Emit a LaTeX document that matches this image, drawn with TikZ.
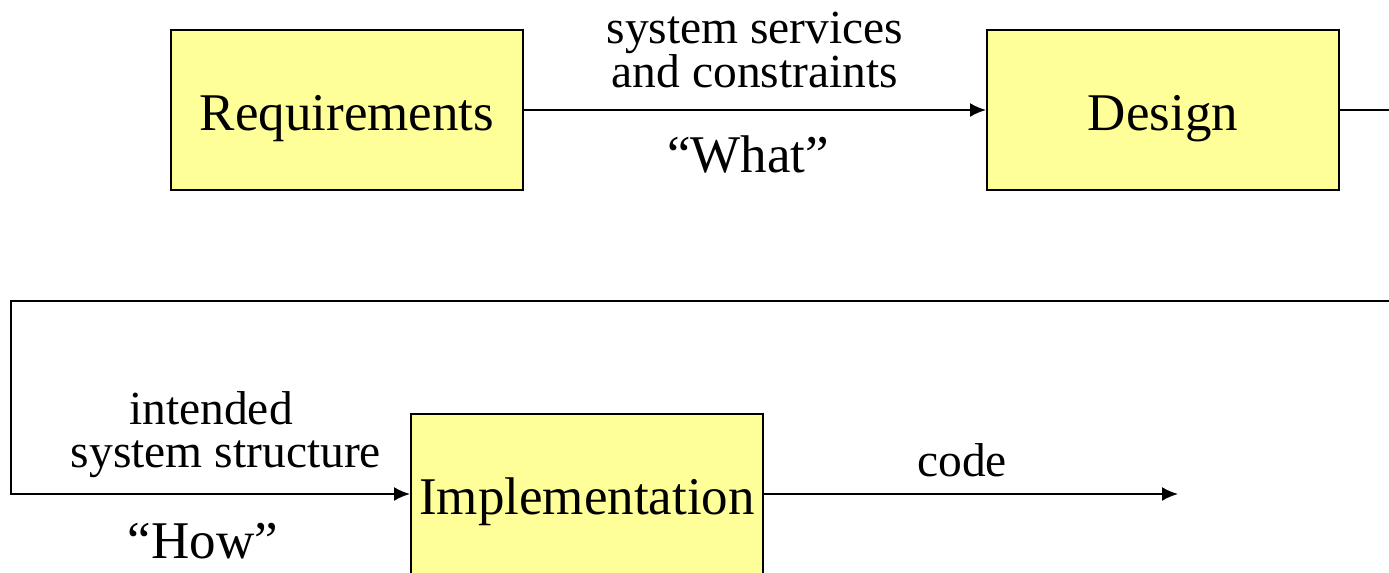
\documentclass[tikz,border=0pt]{standalone}
\usepackage{fontspec}
\setmainfont{Liberation Serif}
\usepackage{tikz}
\usetikzlibrary{arrows.meta,positioning}

\tikzset{
  phase/.style={draw, line width=1pt, fill=phasefill, minimum width=176pt,
                minimum height=80pt, inner sep=0pt, text height=24pt, text depth=4pt,
                font=\fontsize{26.5}{28}\selectfont},
  flow/.style={line width=1pt},
  lbl/.style={align=center, inner sep=0pt, font=\fontsize{23.75}{22}\selectfont},
  quote/.style={inner sep=0pt, font=\fontsize{26.5}{28}\selectfont}
}
\definecolor{phasefill}{HTML}{FFFF99}

\begin{document}
\begin{tikzpicture}[x=0.5pt, y=-0.5pt, >={Latex[length=8pt,width=7pt]}]
	\useasboundingbox (0,0) rectangle (1389,573);
	\clip (0,0) rectangle (1389,573);
	% phases
	\node[phase] (req) at (347,110) {Requirements};
	\node[phase] (des) at (1163,110) {Design};
	\node[phase] (imp) at (587,494) {Implementation};
	% corners of the return line
	\coordinate (dout) at (1420,110);
	\coordinate (rtop) at (1420,301);
	\coordinate (ltop) at (11,301);
	\coordinate (lbot) at (11,494);
	\coordinate (cend) at (1178,494);
	% labels
	\node[lbl] (svc) at (755,50) {system services\\and constraints};
	\node[quote] (what) at (748,155) {“What”};
	\node[lbl] (intd) at (211,408) {intended};
	\node[lbl] (sstr) at (226,459) {system structure};
	\node[quote] (how) at (203,541) {“How”};
	\node[lbl] (code) at (962,460) {code};
	% flows
	\draw[flow,->] (req.east) -- (des.west);
	\draw[flow] (des.east) -- (dout);
	\draw[flow,->] (rtop) -- (ltop) -- (lbot) -- (imp.west);
	\draw[flow,->] (imp.east) -- (cend);
\end{tikzpicture}
\end{document}
